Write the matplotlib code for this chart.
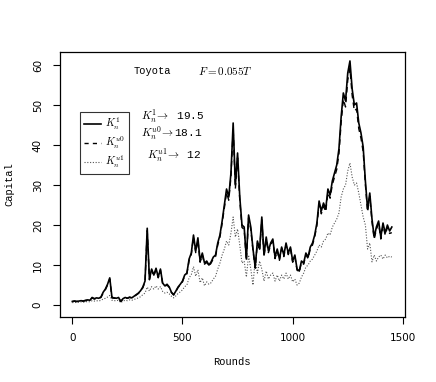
import numpy as np
import matplotlib
matplotlib.use("Agg")
import matplotlib.pyplot as plt
from matplotlib.lines import Line2D

plt.rcParams['mathtext.fontset'] = 'cm'

rounds = list(range(0, 1451, 10))

k1 = [0.9, 1.0, 0.9, 1.0, 1.1, 1.0, 1.2, 1.3, 1.2, 1.9,
      1.6, 1.8, 1.7, 2.0, 3.2, 4.0, 5.2, 6.8, 1.9, 1.8,
      1.7, 1.9, 0.9, 1.6, 1.9, 1.7, 2.0, 1.8, 2.2, 2.6,
      3.0, 3.6, 4.5, 6.0, 19.2, 6.5, 9.0, 7.5, 9.2, 7.0,
      9.0, 5.5, 4.8, 5.2, 4.5, 3.2, 2.6, 3.5, 4.5, 5.2,
      6.0, 7.5, 8.0, 11.5, 13.0, 17.5, 13.5, 16.8, 11.0, 13.0,
      10.5, 11.0, 10.0, 10.8, 12.0, 12.5, 15.5, 17.5, 21.0, 25.0,
      29.0, 27.0, 33.0, 45.5, 30.0, 38.0, 27.0, 20.0, 19.5, 11.5,
      22.5, 19.5, 14.0, 9.5, 16.0, 14.0, 22.0, 12.5, 17.0, 13.5,
      15.5, 16.5, 12.0, 14.0, 11.5, 14.5, 12.5, 15.5, 13.0, 14.5,
      11.0, 12.5, 9.0, 8.5, 11.0, 10.5, 13.0, 12.0, 14.5, 15.5,
      17.5, 20.5, 26.0, 23.5, 25.5, 24.0, 29.0, 27.5, 31.0, 33.0,
      35.0, 39.0, 47.0, 53.0, 51.0, 58.0, 61.0, 54.0, 50.0, 50.5,
      45.5, 43.0, 39.5, 31.0, 24.0, 28.0, 21.5, 17.0, 19.5, 21.0,
      17.0, 20.5, 18.0, 20.0, 18.5, 19.5]

ku0 = [0.9, 1.0, 0.9, 1.0, 1.0, 1.0, 1.1, 1.2, 1.2, 1.8,
       1.5, 1.7, 1.7, 1.9, 3.0, 3.8, 5.0, 6.5, 1.8, 1.7,
       1.7, 1.8, 0.9, 1.5, 1.8, 1.7, 1.9, 1.8, 2.1, 2.5,
       2.9, 3.5, 4.3, 5.8, 18.6, 6.3, 8.7, 7.3, 8.9, 6.8,
       8.7, 5.3, 4.7, 5.0, 4.4, 3.1, 2.5, 3.4, 4.4, 5.0,
       5.8, 7.3, 7.8, 11.1, 12.6, 17.0, 13.1, 16.3, 10.7, 12.6,
       10.2, 10.7, 9.7, 10.5, 11.6, 12.1, 15.0, 17.0, 20.4, 24.3,
       28.1, 26.2, 32.0, 44.0, 29.1, 36.8, 26.2, 19.4, 18.9, 11.2,
       21.8, 18.9, 13.6, 9.2, 15.5, 13.6, 21.3, 12.1, 16.5, 13.1,
       15.0, 16.0, 11.6, 13.6, 11.2, 14.1, 12.1, 15.0, 12.6, 14.1,
       10.7, 12.1, 8.7, 8.2, 10.7, 10.2, 12.6, 11.6, 14.1, 15.0,
       17.0, 19.9, 25.2, 22.8, 24.7, 23.3, 28.1, 26.7, 30.1, 32.0,
       33.9, 37.8, 45.6, 51.4, 49.5, 56.2, 59.1, 52.4, 48.5, 49.0,
       44.1, 41.7, 38.3, 30.1, 23.3, 27.2, 20.8, 16.5, 18.9, 20.4,
       16.5, 19.9, 17.5, 19.4, 17.9, 18.1]

ku1 = [0.6, 0.7, 0.6, 0.7, 0.8, 0.7, 0.8, 0.9, 0.8, 1.1,
       1.0, 1.1, 1.0, 1.2, 1.5, 1.7, 2.0, 2.4, 1.2, 1.1,
       1.1, 1.2, 0.6, 1.0, 1.2, 1.1, 1.3, 1.2, 1.4, 1.6,
       1.8, 2.1, 2.6, 3.0, 4.5, 3.5, 4.6, 4.0, 4.8, 4.0,
       4.6, 3.4, 3.0, 3.2, 2.8, 2.2, 1.8, 2.3, 2.9, 3.3,
       3.8, 4.6, 5.0, 6.8, 7.6, 9.6, 7.2, 8.8, 5.6, 6.8,
       4.8, 5.8, 5.2, 5.6, 6.5, 7.2, 9.0, 10.5, 12.5, 14.0,
       16.0, 15.0, 18.0, 22.0, 17.0, 19.0, 15.0, 10.5, 11.0, 7.0,
       12.5, 9.0, 5.0, 11.5, 8.0, 11.0, 9.0, 6.0, 8.5, 6.5,
       7.5, 8.0, 6.0, 7.5, 6.0, 7.5, 6.5, 8.0, 6.5, 7.5,
       5.8, 6.5, 5.0, 5.5, 7.0, 8.0, 9.5, 10.0, 11.0, 11.5,
       12.5, 13.5, 15.0, 14.5, 16.0, 16.5, 18.0, 17.5, 19.5, 20.5,
       21.5, 23.0, 27.0, 29.0, 30.0, 33.5, 35.5, 32.0, 30.0, 30.5,
       28.0, 25.0, 22.0, 20.0, 14.0, 15.5, 10.8, 12.5, 11.0, 12.0,
       12.5, 11.5, 12.5, 11.8, 12.2, 12.0]

xticks = [0, 500, 1000, 1500]
yticks = [0, 10, 20, 30, 40, 50, 60]

fig = plt.figure(figsize=(4.36, 3.82), dpi=100)
ax = fig.add_axes([0.1365, 0.171, 0.7925, 0.693])

ax.plot(rounds, ku1, color='#555555', linestyle=(0, (1, 1.5)), lw=0.8)
ax.plot(rounds, ku0, color='black', linestyle=(0, (4, 3)), lw=1.0)
ax.plot(rounds, k1, color='black', linestyle='-', lw=1.2)

ax.set_xlim(-58, 1510)
ax.set_ylim(-2.9, 63.25)
ax.set_xticks(xticks)
ax.set_yticks(yticks)
ax.set_xticklabels([str(t) for t in xticks], fontsize=7.5, family='DejaVu Sans')
ax.set_yticklabels([str(t) for t in yticks], fontsize=7.5, family='DejaVu Sans',
                   rotation=90, va='center')
ax.tick_params(direction='out', length=5, width=0.8, pad=7)
for s in ax.spines.values():
    s.set_linewidth(0.9)

ax.set_xlabel('Rounds', fontsize=7.5, family='Liberation Mono', labelpad=10)
ax.set_ylabel('Capital', fontsize=7.5, family='Liberation Mono', labelpad=13)

fig.text(134/436, 1 - 71/382, 'Toyota', fontsize=7.5, family='Liberation Mono',
         va='center', ha='left')
fig.text(198/436, 1 - 71/382, r'$F = 0.055T$', fontsize=8, va='center', ha='left')

fig.text(141/436, 1 - 116/382, r'$K_n^1\!\rightarrow$ 19.5', fontsize=8,
         family='Liberation Mono', va='center', ha='left')
fig.text(141/436, 1 - 133/382, r'$K_n^{u0}\!\rightarrow$18.1', fontsize=8,
         family='Liberation Mono', va='center', ha='left')
fig.text(147/436, 1 - 155/382, r'$K_n^{u1}\!\rightarrow$ 12', fontsize=8,
         family='Liberation Mono', va='center', ha='left')

handles = [Line2D([], [], color='black', lw=1.2),
           Line2D([], [], color='black', lw=1.0, linestyle=(0, (3, 3))),
           Line2D([], [], color='#555555', lw=0.8, linestyle=(0, (1, 1.5)))]
labels = [r'$K_n^1$', r'$K_n^{u0}$', r'$K_n^{u1}$']
leg = ax.legend(handles, labels, loc='upper left',
                bbox_to_anchor=((80 - 59.5) / 345.5, (316.7 - 112) / 264.7),
                fontsize=7.5, frameon=True, fancybox=False, handlelength=1.6,
                handletextpad=0.4, borderpad=0.4, labelspacing=0.25,
                borderaxespad=0)
leg.get_frame().set_edgecolor('black')
leg.get_frame().set_linewidth(0.8)

fig.savefig('out.png', dpi=100)
